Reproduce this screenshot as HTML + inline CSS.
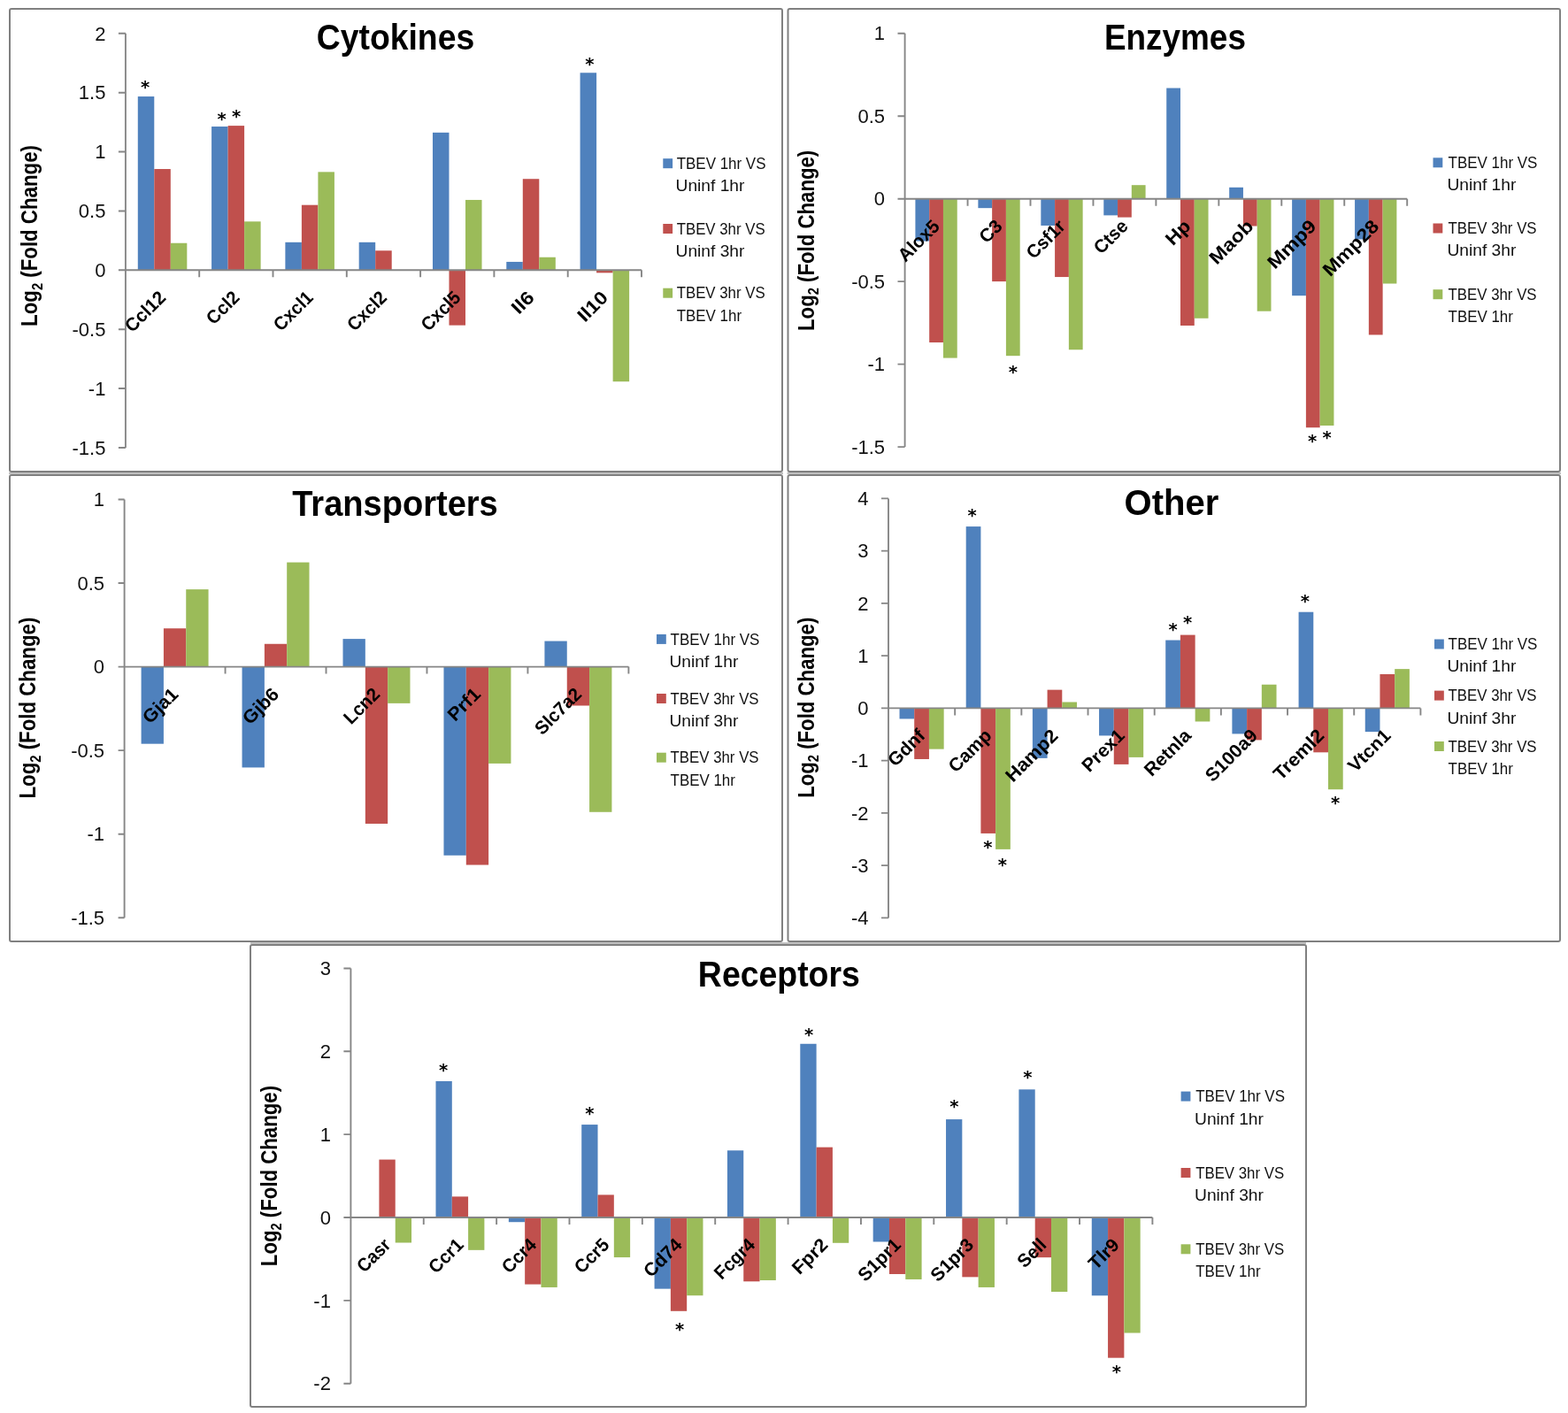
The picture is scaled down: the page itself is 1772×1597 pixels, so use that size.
<!DOCTYPE html>
<html><head><meta charset="utf-8"><title>Log2 fold change charts</title>
<style>
html,body{margin:0;padding:0;background:#fff;}
body{width:1772px;height:1597px;overflow:hidden;}
svg{display:block;}
text{font-family:"Liberation Sans", Arial, sans-serif;fill:#000;}
.tk{font-size:22px;text-anchor:end;fill:#111;}
.cl{font-size:21px;font-weight:bold;text-anchor:end;}
.st{font-family:"DejaVu Sans",sans-serif;font-size:19.5px;font-weight:bold;text-anchor:middle;}
.ti{font-size:40px;font-weight:bold;}
.yt{font-size:25px;font-weight:bold;}
.lg{font-size:18.2px;fill:#111;}
</style></head><body>
<svg width="1772" height="1597" viewBox="0 0 1772 1597">
<rect width="1772" height="1597" fill="#fff"/>
<rect x="10" y="533.9" width="875" height="2" fill="#bcbcbc"/><rect x="889.5" y="533.9" width="874.5" height="2" fill="#bcbcbc"/><rect x="283" y="1065.1" width="1193" height="2" fill="#bcbcbc"/>
<g><rect x="11" y="10" width="873" height="523" rx="2" fill="#fff" stroke="#808080" stroke-width="2"/>
<rect x="155.78" y="109.05" width="18.51" height="196.25" fill="#4F81BD"/>
<rect x="174.29" y="191.03" width="18.51" height="114.27" fill="#C0504D"/>
<rect x="192.81" y="274.74" width="18.51" height="30.56" fill="#9BBB59"/>
<rect x="239.08" y="143.04" width="18.51" height="162.26" fill="#4F81BD"/>
<rect x="257.59" y="142.11" width="18.51" height="163.19" fill="#C0504D"/>
<rect x="276.11" y="250.35" width="18.51" height="54.95" fill="#9BBB59"/>
<rect x="322.38" y="273.81" width="18.51" height="31.49" fill="#4F81BD"/>
<rect x="340.89" y="231.69" width="18.51" height="73.62" fill="#C0504D"/>
<rect x="359.41" y="194.36" width="18.51" height="110.94" fill="#9BBB59"/>
<rect x="405.68" y="273.81" width="18.51" height="31.49" fill="#4F81BD"/>
<rect x="424.19" y="283.27" width="18.51" height="22.03" fill="#C0504D"/>
<rect x="488.98" y="149.84" width="18.51" height="155.46" fill="#4F81BD"/>
<rect x="507.49" y="305.3" width="18.51" height="62.35" fill="#C0504D"/>
<rect x="526.01" y="225.95" width="18.51" height="79.35" fill="#9BBB59"/>
<rect x="572.28" y="295.94" width="18.51" height="9.36" fill="#4F81BD"/>
<rect x="590.79" y="202.23" width="18.51" height="103.07" fill="#C0504D"/>
<rect x="609.31" y="290.74" width="18.51" height="14.56" fill="#9BBB59"/>
<rect x="655.58" y="82.26" width="18.51" height="223.04" fill="#4F81BD"/>
<rect x="674.09" y="305.3" width="18.51" height="3.03" fill="#C0504D"/>
<rect x="692.61" y="305.3" width="18.51" height="125.94" fill="#9BBB59"/>
<path d="M141.9 37.8V505.93" stroke="#868686" stroke-width="1.9" fill="none"/>
<path d="M133.9 505.93H141.9 M133.9 439.05H141.9 M133.9 372.18H141.9 M133.9 305.3H141.9 M133.9 238.43H141.9 M133.9 171.55H141.9 M133.9 104.68H141.9 M133.9 37.8H141.9" stroke="#868686" stroke-width="1.9" fill="none"/>
<path d="M141.9 305.3H725" stroke="#868686" stroke-width="1.9" fill="none"/>
<path d="M225.2 305.3V313.3 M308.5 305.3V313.3 M391.8 305.3V313.3 M475.1 305.3V313.3 M558.4 305.3V313.3 M641.7 305.3V313.3 M725 305.3V313.3" stroke="#868686" stroke-width="1.9" fill="none"/>
<text x="119.4" y="513.62" class="tk">-1.5</text>
<text x="119.4" y="446.75" class="tk">-1</text>
<text x="119.4" y="379.88" class="tk">-0.5</text>
<text x="119.4" y="313" class="tk">0</text>
<text x="119.4" y="246.12" class="tk">0.5</text>
<text x="119.4" y="179.25" class="tk">1</text>
<text x="119.4" y="112.38" class="tk">1.5</text>
<text x="119.4" y="45.5" class="tk">2</text>
<text transform="translate(184.61 333.64) rotate(-45)" class="cl" dy="5.6" textLength="55.24" lengthAdjust="spacingAndGlyphs">Ccl12</text>
<text transform="translate(267.91 333.64) rotate(-45)" class="cl" dy="5.6" textLength="42.84" lengthAdjust="spacingAndGlyphs">Ccl2</text>
<text transform="translate(351.21 333.64) rotate(-45)" class="cl" dy="5.6" textLength="53.18" lengthAdjust="spacingAndGlyphs">Cxcl1</text>
<text transform="translate(434.51 333.64) rotate(-45)" class="cl" dy="5.6" textLength="53.39" lengthAdjust="spacingAndGlyphs">Cxcl2</text>
<text transform="translate(517.81 333.64) rotate(-45)" class="cl" dy="5.6" textLength="53.18" lengthAdjust="spacingAndGlyphs">Cxcl5</text>
<text transform="translate(601.11 333.64) rotate(-45)" class="cl" dy="5.6" textLength="26.53" lengthAdjust="spacingAndGlyphs">Il6</text>
<text transform="translate(684.41 333.64) rotate(-45)" class="cl" dy="5.6" textLength="38.84" lengthAdjust="spacingAndGlyphs">Il10</text>
<text x="164.2" y="104.64" class="st">*</text>
<text x="250.7" y="140.54" class="st">*</text>
<text x="267.1" y="138.24" class="st">*</text>
<text x="666.4" y="79.24" class="st">*</text>
<text x="357.71" y="55.9" class="ti" textLength="178.54" lengthAdjust="spacingAndGlyphs">Cytokines</text>
<text transform="translate(42.4 368.95) rotate(-90)" class="yt" textLength="204.92" lengthAdjust="spacingAndGlyphs">Log<tspan font-size="16.5" dy="5.5">2</tspan><tspan dy="-5.5"> (Fold Change)</tspan></text>
<rect x="749.3" y="179.2" width="10.8" height="11.0" fill="#4F81BD"/>
<text x="764.66" y="190.8" class="lg" textLength="100.85" lengthAdjust="spacingAndGlyphs">TBEV 1hr VS</text>
<text x="763.56" y="216.1" class="lg" textLength="77.89" lengthAdjust="spacingAndGlyphs">Uninf 1hr</text>
<rect x="749.3" y="253" width="10.8" height="11.0" fill="#C0504D"/>
<text x="764.66" y="264.6" class="lg" textLength="100.04" lengthAdjust="spacingAndGlyphs">TBEV 3hr VS</text>
<text x="763.56" y="289.9" class="lg" textLength="77.89" lengthAdjust="spacingAndGlyphs">Uninf 3hr</text>
<rect x="749.3" y="325.7" width="10.8" height="11.0" fill="#9BBB59"/>
<text x="764.66" y="337.3" class="lg" textLength="100.04" lengthAdjust="spacingAndGlyphs">TBEV 3hr VS</text>
<text x="764.66" y="362.6" class="lg" textLength="73.36" lengthAdjust="spacingAndGlyphs">TBEV 1hr</text></g>
<g><rect x="890.5" y="10" width="872.5" height="523" rx="2" fill="#fff" stroke="#808080" stroke-width="2"/>
<rect x="1034.42" y="224.7" width="15.77" height="47.82" fill="#4F81BD"/>
<rect x="1050.19" y="224.7" width="15.77" height="162.33" fill="#C0504D"/>
<rect x="1065.96" y="224.7" width="15.77" height="179.89" fill="#9BBB59"/>
<rect x="1105.38" y="224.7" width="15.77" height="10.46" fill="#4F81BD"/>
<rect x="1121.14" y="224.7" width="15.77" height="93.4" fill="#C0504D"/>
<rect x="1136.91" y="224.7" width="15.77" height="177.46" fill="#9BBB59"/>
<rect x="1176.33" y="224.7" width="15.77" height="30.26" fill="#4F81BD"/>
<rect x="1192.09" y="224.7" width="15.77" height="88.36" fill="#C0504D"/>
<rect x="1207.86" y="224.7" width="15.77" height="170.55" fill="#9BBB59"/>
<rect x="1247.28" y="224.7" width="15.77" height="18.68" fill="#4F81BD"/>
<rect x="1263.04" y="224.7" width="15.77" height="20.92" fill="#C0504D"/>
<rect x="1278.81" y="209.2" width="15.77" height="15.5" fill="#9BBB59"/>
<rect x="1318.23" y="99.54" width="15.77" height="125.16" fill="#4F81BD"/>
<rect x="1333.99" y="224.7" width="15.77" height="143.28" fill="#C0504D"/>
<rect x="1349.76" y="224.7" width="15.77" height="135.06" fill="#9BBB59"/>
<rect x="1389.17" y="211.81" width="15.77" height="12.89" fill="#4F81BD"/>
<rect x="1404.94" y="224.7" width="15.77" height="30.82" fill="#C0504D"/>
<rect x="1420.71" y="224.7" width="15.77" height="127.02" fill="#9BBB59"/>
<rect x="1460.13" y="224.7" width="15.77" height="109.46" fill="#4F81BD"/>
<rect x="1475.89" y="224.7" width="15.77" height="258.53" fill="#C0504D"/>
<rect x="1491.66" y="224.7" width="15.77" height="256.29" fill="#9BBB59"/>
<rect x="1531.08" y="224.7" width="15.77" height="45.77" fill="#4F81BD"/>
<rect x="1546.84" y="224.7" width="15.77" height="153.74" fill="#C0504D"/>
<rect x="1562.61" y="224.7" width="15.77" height="95.83" fill="#9BBB59"/>
<path d="M1022.6 37.75V505.12" stroke="#868686" stroke-width="1.9" fill="none"/>
<path d="M1014.5 505.12H1022.6 M1014.5 411.65H1022.6 M1014.5 318.17H1022.6 M1014.5 224.7H1022.6 M1014.5 131.22H1022.6 M1014.5 37.75H1022.6" stroke="#868686" stroke-width="1.9" fill="none"/>
<path d="M1022.6 224.7H1590.2" stroke="#868686" stroke-width="1.9" fill="none"/>
<path d="M1093.55 224.7V232.7 M1164.5 224.7V232.7 M1235.45 224.7V232.7 M1306.4 224.7V232.7 M1377.35 224.7V232.7 M1448.3 224.7V232.7 M1519.25 224.7V232.7 M1590.2 224.7V232.7" stroke="#868686" stroke-width="1.9" fill="none"/>
<text x="1000.1" y="512.82" class="tk">-1.5</text>
<text x="1000.1" y="419.35" class="tk">-1</text>
<text x="1000.1" y="325.87" class="tk">-0.5</text>
<text x="1000.1" y="232.4" class="tk">0</text>
<text x="1000.1" y="138.92" class="tk">0.5</text>
<text x="1000.1" y="45.45" class="tk">1</text>
<text transform="translate(1059.14 253.04) rotate(-45)" class="cl" dy="5.6" textLength="56.48" lengthAdjust="spacingAndGlyphs">Alox5</text>
<text transform="translate(1130.09 253.04) rotate(-45)" class="cl" dy="5.6" textLength="26.98" lengthAdjust="spacingAndGlyphs">C3</text>
<text transform="translate(1201.04 253.04) rotate(-45)" class="cl" dy="5.6" textLength="51.97" lengthAdjust="spacingAndGlyphs">Csf1r</text>
<text transform="translate(1271.99 253.04) rotate(-45)" class="cl" dy="5.6" textLength="44.32" lengthAdjust="spacingAndGlyphs">Ctse</text>
<text transform="translate(1342.94 253.04) rotate(-45)" class="cl" dy="5.6" textLength="30.44" lengthAdjust="spacingAndGlyphs">Hp</text>
<text transform="translate(1413.89 253.04) rotate(-45)" class="cl" dy="5.6" textLength="60.7" lengthAdjust="spacingAndGlyphs">Maob</text>
<text transform="translate(1484.84 253.04) rotate(-45)" class="cl" dy="5.6" textLength="67.92" lengthAdjust="spacingAndGlyphs">Mmp9</text>
<text transform="translate(1555.79 253.04) rotate(-45)" class="cl" dy="5.6" textLength="80.02" lengthAdjust="spacingAndGlyphs">Mmp28</text>
<text x="1144.8" y="426.84" class="st">*</text>
<text x="1483" y="505.04" class="st">*</text>
<text x="1499.5" y="500.74" class="st">*</text>
<text x="1247.9" y="55.7" class="ti" textLength="160.03" lengthAdjust="spacingAndGlyphs">Enzymes</text>
<text transform="translate(919.5 373.94) rotate(-90)" class="yt" textLength="204.21" lengthAdjust="spacingAndGlyphs">Log<tspan font-size="16.5" dy="5.5">2</tspan><tspan dy="-5.5"> (Fold Change)</tspan></text>
<rect x="1619.5" y="178.3" width="10.8" height="11.0" fill="#4F81BD"/>
<text x="1636.56" y="189.9" class="lg" textLength="100.85" lengthAdjust="spacingAndGlyphs">TBEV 1hr VS</text>
<text x="1635.46" y="215.2" class="lg" textLength="77.89" lengthAdjust="spacingAndGlyphs">Uninf 1hr</text>
<rect x="1619.5" y="252.5" width="10.8" height="11.0" fill="#C0504D"/>
<text x="1636.56" y="264.1" class="lg" textLength="100.04" lengthAdjust="spacingAndGlyphs">TBEV 3hr VS</text>
<text x="1635.46" y="289.4" class="lg" textLength="77.89" lengthAdjust="spacingAndGlyphs">Uninf 3hr</text>
<rect x="1619.5" y="327.2" width="10.8" height="11.0" fill="#9BBB59"/>
<text x="1636.56" y="338.8" class="lg" textLength="100.04" lengthAdjust="spacingAndGlyphs">TBEV 3hr VS</text>
<text x="1636.56" y="364.1" class="lg" textLength="73.36" lengthAdjust="spacingAndGlyphs">TBEV 1hr</text></g>
<g><rect x="11" y="537" width="873" height="527" rx="2" fill="#fff" stroke="#808080" stroke-width="2"/>
<rect x="159.59" y="753.6" width="25.32" height="87.08" fill="#4F81BD"/>
<rect x="184.92" y="710.23" width="25.32" height="43.37" fill="#C0504D"/>
<rect x="210.24" y="666.12" width="25.32" height="87.48" fill="#9BBB59"/>
<rect x="273.55" y="753.6" width="25.32" height="113.84" fill="#4F81BD"/>
<rect x="298.88" y="727.76" width="25.32" height="25.84" fill="#C0504D"/>
<rect x="324.2" y="635.59" width="25.32" height="118.01" fill="#9BBB59"/>
<rect x="387.51" y="722.11" width="25.32" height="31.49" fill="#4F81BD"/>
<rect x="412.84" y="753.6" width="25.32" height="177.37" fill="#C0504D"/>
<rect x="438.16" y="753.6" width="25.32" height="41.27" fill="#9BBB59"/>
<rect x="501.47" y="753.6" width="25.32" height="213.18" fill="#4F81BD"/>
<rect x="526.8" y="753.6" width="25.32" height="223.93" fill="#C0504D"/>
<rect x="552.12" y="753.6" width="25.32" height="109.32" fill="#9BBB59"/>
<rect x="615.43" y="724.56" width="25.32" height="29.04" fill="#4F81BD"/>
<rect x="640.76" y="753.6" width="25.32" height="43.91" fill="#C0504D"/>
<rect x="666.08" y="753.6" width="25.32" height="164.17" fill="#9BBB59"/>
<path d="M140.6 564.5V1037.25" stroke="#868686" stroke-width="1.9" fill="none"/>
<path d="M133.6 1037.25H140.6 M133.6 942.7H140.6 M133.6 848.15H140.6 M133.6 753.6H140.6 M133.6 659.05H140.6 M133.6 564.5H140.6" stroke="#868686" stroke-width="1.9" fill="none"/>
<path d="M140.6 753.6H710.4" stroke="#868686" stroke-width="1.9" fill="none"/>
<path d="M254.56 753.6V761.6 M368.52 753.6V761.6 M482.48 753.6V761.6 M596.44 753.6V761.6 M710.4 753.6V761.6" stroke="#868686" stroke-width="1.9" fill="none"/>
<text x="118.1" y="1044.95" class="tk">-1.5</text>
<text x="118.1" y="950.4" class="tk">-1</text>
<text x="118.1" y="855.85" class="tk">-0.5</text>
<text x="118.1" y="761.3" class="tk">0</text>
<text x="118.1" y="666.75" class="tk">0.5</text>
<text x="118.1" y="572.2" class="tk">1</text>
<text transform="translate(198.64 781.94) rotate(-45)" class="cl" dy="5.6" textLength="46.71" lengthAdjust="spacingAndGlyphs">Gja1</text>
<text transform="translate(312.6 781.94) rotate(-45)" class="cl" dy="5.6" textLength="48.06" lengthAdjust="spacingAndGlyphs">Gjb6</text>
<text transform="translate(426.56 781.94) rotate(-45)" class="cl" dy="5.6" textLength="47.84" lengthAdjust="spacingAndGlyphs">Lcn2</text>
<text transform="translate(540.52 781.94) rotate(-45)" class="cl" dy="5.6" textLength="42.94" lengthAdjust="spacingAndGlyphs">Prf1</text>
<text transform="translate(654.48 781.94) rotate(-45)" class="cl" dy="5.6" textLength="64.8" lengthAdjust="spacingAndGlyphs">Slc7a2</text>
<text x="330.22" y="582.6" class="ti" textLength="232.56" lengthAdjust="spacingAndGlyphs">Transporters</text>
<text transform="translate(40.2 902.55) rotate(-90)" class="yt" textLength="204.92" lengthAdjust="spacingAndGlyphs">Log<tspan font-size="16.5" dy="5.5">2</tspan><tspan dy="-5.5"> (Fold Change)</tspan></text>
<rect x="742" y="716.9" width="10.8" height="11.0" fill="#4F81BD"/>
<text x="757.56" y="728.5" class="lg" textLength="100.85" lengthAdjust="spacingAndGlyphs">TBEV 1hr VS</text>
<text x="756.46" y="753.8" class="lg" textLength="77.89" lengthAdjust="spacingAndGlyphs">Uninf 1hr</text>
<rect x="742" y="784" width="10.8" height="11.0" fill="#C0504D"/>
<text x="757.56" y="795.6" class="lg" textLength="100.04" lengthAdjust="spacingAndGlyphs">TBEV 3hr VS</text>
<text x="756.46" y="820.9" class="lg" textLength="77.89" lengthAdjust="spacingAndGlyphs">Uninf 3hr</text>
<rect x="742" y="850.7" width="10.8" height="11.0" fill="#9BBB59"/>
<text x="757.56" y="862.3" class="lg" textLength="100.04" lengthAdjust="spacingAndGlyphs">TBEV 3hr VS</text>
<text x="757.56" y="887.6" class="lg" textLength="73.36" lengthAdjust="spacingAndGlyphs">TBEV 1hr</text></g>
<g><rect x="890.5" y="537" width="872.5" height="527" rx="2" fill="#fff" stroke="#808080" stroke-width="2"/>
<rect x="1016.53" y="800.4" width="16.71" height="12.06" fill="#4F81BD"/>
<rect x="1033.23" y="800.4" width="16.71" height="57.57" fill="#C0504D"/>
<rect x="1049.94" y="800.4" width="16.71" height="46.25" fill="#9BBB59"/>
<rect x="1091.7" y="595.08" width="16.71" height="205.32" fill="#4F81BD"/>
<rect x="1108.41" y="800.4" width="16.71" height="141.53" fill="#C0504D"/>
<rect x="1125.12" y="800.4" width="16.71" height="159.48" fill="#9BBB59"/>
<rect x="1166.88" y="800.4" width="16.71" height="56.5" fill="#4F81BD"/>
<rect x="1183.58" y="779.64" width="16.71" height="20.76" fill="#C0504D"/>
<rect x="1200.29" y="793.5" width="16.71" height="6.9" fill="#9BBB59"/>
<rect x="1242.05" y="800.4" width="16.71" height="31.02" fill="#4F81BD"/>
<rect x="1258.76" y="800.4" width="16.71" height="63.49" fill="#C0504D"/>
<rect x="1275.47" y="800.4" width="16.71" height="55.5" fill="#9BBB59"/>
<rect x="1317.23" y="723.53" width="16.71" height="76.87" fill="#4F81BD"/>
<rect x="1333.93" y="717.61" width="16.71" height="82.79" fill="#C0504D"/>
<rect x="1350.64" y="800.4" width="16.71" height="15.09" fill="#9BBB59"/>
<rect x="1392.4" y="800.4" width="16.71" height="29.01" fill="#4F81BD"/>
<rect x="1409.11" y="800.4" width="16.71" height="36" fill="#C0504D"/>
<rect x="1425.82" y="773.72" width="16.71" height="26.68" fill="#9BBB59"/>
<rect x="1467.58" y="691.71" width="16.71" height="108.69" fill="#4F81BD"/>
<rect x="1484.28" y="800.4" width="16.71" height="49.93" fill="#C0504D"/>
<rect x="1500.99" y="800.4" width="16.71" height="91.82" fill="#9BBB59"/>
<rect x="1542.75" y="800.4" width="16.71" height="26.7" fill="#4F81BD"/>
<rect x="1559.46" y="761.98" width="16.71" height="38.42" fill="#C0504D"/>
<rect x="1576.17" y="756.12" width="16.71" height="44.28" fill="#9BBB59"/>
<path d="M1004 563.4V1037.4" stroke="#868686" stroke-width="1.9" fill="none"/>
<path d="M996 1037.4H1004 M996 978.15H1004 M996 918.9H1004 M996 859.65H1004 M996 800.4H1004 M996 741.15H1004 M996 681.9H1004 M996 622.65H1004 M996 563.4H1004" stroke="#868686" stroke-width="1.9" fill="none"/>
<path d="M1004 800.4H1605.4" stroke="#868686" stroke-width="1.9" fill="none"/>
<path d="M1079.17 800.4V808.4 M1154.35 800.4V808.4 M1229.53 800.4V808.4 M1304.7 800.4V808.4 M1379.88 800.4V808.4 M1455.05 800.4V808.4 M1530.23 800.4V808.4 M1605.4 800.4V808.4" stroke="#868686" stroke-width="1.9" fill="none"/>
<text x="981.5" y="1045.1" class="tk">-4</text>
<text x="981.5" y="985.85" class="tk">-3</text>
<text x="981.5" y="926.6" class="tk">-2</text>
<text x="981.5" y="867.35" class="tk">-1</text>
<text x="981.5" y="808.1" class="tk">0</text>
<text x="981.5" y="748.85" class="tk">1</text>
<text x="981.5" y="689.6" class="tk">2</text>
<text x="981.5" y="630.35" class="tk">3</text>
<text x="981.5" y="571.1" class="tk">4</text>
<text transform="translate(1042.65 828.74) rotate(-45)" class="cl" dy="5.6" textLength="49.28" lengthAdjust="spacingAndGlyphs">Gdnf</text>
<text transform="translate(1117.82 828.74) rotate(-45)" class="cl" dy="5.6" textLength="58.72" lengthAdjust="spacingAndGlyphs">Camp</text>
<text transform="translate(1193 828.74) rotate(-45)" class="cl" dy="5.6" textLength="73.81" lengthAdjust="spacingAndGlyphs">Hamp2</text>
<text transform="translate(1268.17 828.74) rotate(-45)" class="cl" dy="5.6" textLength="58.13" lengthAdjust="spacingAndGlyphs">Prex1</text>
<text transform="translate(1343.35 828.74) rotate(-45)" class="cl" dy="5.6" textLength="64.86" lengthAdjust="spacingAndGlyphs">Retnla</text>
<text transform="translate(1418.52 828.74) rotate(-45)" class="cl" dy="5.6" textLength="73.67" lengthAdjust="spacingAndGlyphs">S100a9</text>
<text transform="translate(1493.7 828.74) rotate(-45)" class="cl" dy="5.6" textLength="71.01" lengthAdjust="spacingAndGlyphs">Treml2</text>
<text transform="translate(1568.87 828.74) rotate(-45)" class="cl" dy="5.6" textLength="58.19" lengthAdjust="spacingAndGlyphs">Vtcn1</text>
<text x="1098.7" y="589.34" class="st">*</text>
<text x="1116.3" y="964.04" class="st">*</text>
<text x="1132.9" y="984.24" class="st">*</text>
<text x="1325.5" y="717.84" class="st">*</text>
<text x="1342.2" y="709.54" class="st">*</text>
<text x="1474.9" y="686.34" class="st">*</text>
<text x="1509.1" y="913.64" class="st">*</text>
<text x="1270.6" y="582.3" class="ti" textLength="106.67" lengthAdjust="spacingAndGlyphs">Other</text>
<text transform="translate(919.5 901.84) rotate(-90)" class="yt" textLength="204.21" lengthAdjust="spacingAndGlyphs">Log<tspan font-size="16.5" dy="5.5">2</tspan><tspan dy="-5.5"> (Fold Change)</tspan></text>
<rect x="1621" y="722.5" width="10.8" height="11.0" fill="#4F81BD"/>
<text x="1636.56" y="734.1" class="lg" textLength="100.85" lengthAdjust="spacingAndGlyphs">TBEV 1hr VS</text>
<text x="1635.46" y="759.4" class="lg" textLength="77.89" lengthAdjust="spacingAndGlyphs">Uninf 1hr</text>
<rect x="1621" y="780.6" width="10.8" height="11.0" fill="#C0504D"/>
<text x="1636.56" y="792.2" class="lg" textLength="100.04" lengthAdjust="spacingAndGlyphs">TBEV 3hr VS</text>
<text x="1635.46" y="817.5" class="lg" textLength="77.89" lengthAdjust="spacingAndGlyphs">Uninf 3hr</text>
<rect x="1621" y="838" width="10.8" height="11.0" fill="#9BBB59"/>
<text x="1636.56" y="849.6" class="lg" textLength="100.04" lengthAdjust="spacingAndGlyphs">TBEV 3hr VS</text>
<text x="1636.56" y="874.9" class="lg" textLength="73.36" lengthAdjust="spacingAndGlyphs">TBEV 1hr</text></g>
<g><rect x="283" y="1068" width="1193" height="522" rx="2" fill="#fff" stroke="#808080" stroke-width="2"/>
<rect x="428.43" y="1310.57" width="18.3" height="65.43" fill="#C0504D"/>
<rect x="446.73" y="1376" width="18.3" height="28.51" fill="#9BBB59"/>
<rect x="492.49" y="1221.96" width="18.3" height="154.04" fill="#4F81BD"/>
<rect x="510.79" y="1352.39" width="18.3" height="23.61" fill="#C0504D"/>
<rect x="529.1" y="1376" width="18.3" height="36.84" fill="#9BBB59"/>
<rect x="574.85" y="1376" width="18.3" height="5.21" fill="#4F81BD"/>
<rect x="593.16" y="1376" width="18.3" height="75.58" fill="#C0504D"/>
<rect x="611.46" y="1376" width="18.3" height="78.95" fill="#9BBB59"/>
<rect x="657.22" y="1271.08" width="18.3" height="104.92" fill="#4F81BD"/>
<rect x="675.52" y="1350.43" width="18.3" height="25.57" fill="#C0504D"/>
<rect x="693.82" y="1376" width="18.3" height="45.08" fill="#9BBB59"/>
<rect x="739.58" y="1376" width="18.3" height="80.63" fill="#4F81BD"/>
<rect x="757.88" y="1376" width="18.3" height="105.8" fill="#C0504D"/>
<rect x="776.19" y="1376" width="18.3" height="88.21" fill="#9BBB59"/>
<rect x="821.95" y="1300.28" width="18.3" height="75.72" fill="#4F81BD"/>
<rect x="840.25" y="1376" width="18.3" height="72.3" fill="#C0504D"/>
<rect x="858.55" y="1376" width="18.3" height="70.99" fill="#9BBB59"/>
<rect x="904.31" y="1179.76" width="18.3" height="196.24" fill="#4F81BD"/>
<rect x="922.61" y="1296.63" width="18.3" height="79.37" fill="#C0504D"/>
<rect x="940.92" y="1376" width="18.3" height="28.79" fill="#9BBB59"/>
<rect x="986.67" y="1376" width="18.3" height="27.48" fill="#4F81BD"/>
<rect x="1004.98" y="1376" width="18.3" height="63.98" fill="#C0504D"/>
<rect x="1023.28" y="1376" width="18.3" height="69.96" fill="#9BBB59"/>
<rect x="1069.04" y="1265.09" width="18.3" height="110.91" fill="#4F81BD"/>
<rect x="1087.34" y="1376" width="18.3" height="67.34" fill="#C0504D"/>
<rect x="1105.64" y="1376" width="18.3" height="78.95" fill="#9BBB59"/>
<rect x="1151.4" y="1231.32" width="18.3" height="144.68" fill="#4F81BD"/>
<rect x="1169.7" y="1376" width="18.3" height="45.17" fill="#C0504D"/>
<rect x="1188.01" y="1376" width="18.3" height="84" fill="#9BBB59"/>
<rect x="1233.76" y="1376" width="18.3" height="88.3" fill="#4F81BD"/>
<rect x="1252.07" y="1376" width="18.3" height="158.67" fill="#C0504D"/>
<rect x="1270.37" y="1376" width="18.3" height="130.5" fill="#9BBB59"/>
<path d="M396.4 1094.48V1563.68" stroke="#868686" stroke-width="1.9" fill="none"/>
<path d="M388.4 1563.68H396.4 M388.4 1469.84H396.4 M388.4 1376H396.4 M388.4 1282.16H396.4 M388.4 1188.32H396.4 M388.4 1094.48H396.4" stroke="#868686" stroke-width="1.9" fill="none"/>
<path d="M396.4 1376H1302.4" stroke="#868686" stroke-width="1.9" fill="none"/>
<path d="M478.76 1376V1384 M561.13 1376V1384 M643.49 1376V1384 M725.85 1376V1384 M808.22 1376V1384 M890.58 1376V1384 M972.95 1376V1384 M1055.31 1376V1384 M1137.67 1376V1384 M1220.04 1376V1384 M1302.4 1376V1384" stroke="#868686" stroke-width="1.9" fill="none"/>
<text x="373.9" y="1571.38" class="tk">-2</text>
<text x="373.9" y="1477.54" class="tk">-1</text>
<text x="373.9" y="1383.7" class="tk">0</text>
<text x="373.9" y="1289.86" class="tk">1</text>
<text x="373.9" y="1196.02" class="tk">2</text>
<text x="373.9" y="1102.18" class="tk">3</text>
<text transform="translate(438.64 1404.34) rotate(-45)" class="cl" dy="5.6" textLength="43.81" lengthAdjust="spacingAndGlyphs">Casr</text>
<text transform="translate(521.01 1404.34) rotate(-45)" class="cl" dy="5.6" textLength="45.56" lengthAdjust="spacingAndGlyphs">Ccr1</text>
<text transform="translate(603.37 1404.34) rotate(-45)" class="cl" dy="5.6" textLength="45.03" lengthAdjust="spacingAndGlyphs">Ccr4</text>
<text transform="translate(685.73 1404.34) rotate(-45)" class="cl" dy="5.6" textLength="45.56" lengthAdjust="spacingAndGlyphs">Ccr5</text>
<text transform="translate(768.1 1404.34) rotate(-45)" class="cl" dy="5.6" textLength="51.43" lengthAdjust="spacingAndGlyphs">Cd74</text>
<text transform="translate(850.46 1404.34) rotate(-45)" class="cl" dy="5.6" textLength="55.23" lengthAdjust="spacingAndGlyphs">Fcgr4</text>
<text transform="translate(932.82 1404.34) rotate(-45)" class="cl" dy="5.6" textLength="47.1" lengthAdjust="spacingAndGlyphs">Fpr2</text>
<text transform="translate(1015.19 1404.34) rotate(-45)" class="cl" dy="5.6" textLength="58.34" lengthAdjust="spacingAndGlyphs">S1pr1</text>
<text transform="translate(1097.55 1404.34) rotate(-45)" class="cl" dy="5.6" textLength="58.56" lengthAdjust="spacingAndGlyphs">S1pr3</text>
<text transform="translate(1179.92 1404.34) rotate(-45)" class="cl" dy="5.6" textLength="36.45" lengthAdjust="spacingAndGlyphs">Sell</text>
<text transform="translate(1262.28 1404.34) rotate(-45)" class="cl" dy="5.6" textLength="39.35" lengthAdjust="spacingAndGlyphs">Tlr9</text>
<text x="501" y="1216.24" class="st">*</text>
<text x="666.3" y="1265.44" class="st">*</text>
<text x="768" y="1509.34" class="st">*</text>
<text x="914" y="1176.44" class="st">*</text>
<text x="1078.3" y="1257.14" class="st">*</text>
<text x="1161.3" y="1223.64" class="st">*</text>
<text x="1261.9" y="1557.24" class="st">*</text>
<text x="788.87" y="1115.1" class="ti" textLength="182.98" lengthAdjust="spacingAndGlyphs">Receptors</text>
<text transform="translate(312.5 1431.14) rotate(-90)" class="yt" textLength="204.21" lengthAdjust="spacingAndGlyphs">Log<tspan font-size="16.5" dy="5.5">2</tspan><tspan dy="-5.5"> (Fold Change)</tspan></text>
<rect x="1334.6" y="1233.6" width="10.8" height="11.0" fill="#4F81BD"/>
<text x="1351.16" y="1245.2" class="lg" textLength="100.85" lengthAdjust="spacingAndGlyphs">TBEV 1hr VS</text>
<text x="1350.06" y="1270.5" class="lg" textLength="77.89" lengthAdjust="spacingAndGlyphs">Uninf 1hr</text>
<rect x="1334.6" y="1320" width="10.8" height="11.0" fill="#C0504D"/>
<text x="1351.16" y="1331.6" class="lg" textLength="100.04" lengthAdjust="spacingAndGlyphs">TBEV 3hr VS</text>
<text x="1350.06" y="1356.9" class="lg" textLength="77.89" lengthAdjust="spacingAndGlyphs">Uninf 3hr</text>
<rect x="1334.6" y="1406.3" width="10.8" height="11.0" fill="#9BBB59"/>
<text x="1351.16" y="1417.9" class="lg" textLength="100.04" lengthAdjust="spacingAndGlyphs">TBEV 3hr VS</text>
<text x="1351.16" y="1443.2" class="lg" textLength="73.36" lengthAdjust="spacingAndGlyphs">TBEV 1hr</text></g>
</svg>
</body></html>
